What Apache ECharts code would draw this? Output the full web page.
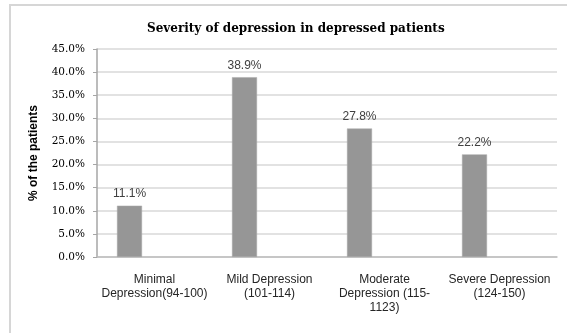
<!DOCTYPE html>
<html>
<head>
<meta charset="utf-8">
<script src="https://cdn.jsdelivr.net/npm/echarts@6/dist/echarts.min.js"></script>
<style>
  html, body { margin: 0; padding: 0; background: #fff; }
  #chart { width: 567px; height: 333px; }
</style>
</head>
<body>
<div id="chart"></div>
<script>
// Severity groups and share of patients in each (%)
var categories = [
  'Minimal\nDepression(94-100)',
  'Mild Depression\n(101-114)',
  'Moderate\nDepression (115-\n1123)',
  'Severe Depression\n(124-150)'
];
var patientShare = [11.1, 38.9, 27.8, 22.2];
// Two empty companion series keep the bars left of each category centre
var emptySeriesA = [null, null, null, null];
var emptySeriesB = [null, null, null, null];
var yTicks = { min: 0, max: 45, step: 5 };

var chart = echarts.init(document.getElementById('chart'), null, { renderer: 'canvas' });

chart.setOption({
  animation: false,
  backgroundColor: '#ffffff',
  graphic: [{
    type: 'rect',
    shape: { x: 10, y: 5, width: 620, height: 400 },
    style: { fill: 'none', stroke: '#d6d6d6', lineWidth: 2 },
    silent: true,
    z: -1
  }],
  title: {
    text: 'Severity of depression in depressed patients',
    left: 142,
    top: 18,
    textStyle: {
      fontFamily: 'DejaVu Serif',
      fontWeight: 'bold',
      fontSize: 12,
      color: '#000000'
    }
  },
  grid: { left: 97, right: 10, top: 49, bottom: 76 },
  xAxis: {
    type: 'category',
    data: categories,
    axisLine: { lineStyle: { color: '#bdbdbd', width: 1.5 } },
    axisTick: { show: false },
    axisLabel: {
      interval: 0,
      margin: 16,
      fontFamily: 'Liberation Sans',
      fontSize: 12,
      lineHeight: 14,
      color: '#262626'
    }
  },
  yAxis: {
    type: 'value',
    min: yTicks.min,
    max: yTicks.max,
    interval: yTicks.step,
    name: '% of the patients',
    nameLocation: 'middle',
    nameGap: 57,
    nameRotate: 90,
    nameTextStyle: {
      fontFamily: 'Liberation Sans',
      fontWeight: 'bold',
      fontSize: 12,
      color: '#000000'
    },
    axisLine: { show: true, lineStyle: { color: '#a6a6a6', width: 1.5 } },
    axisTick: { show: true, length: 4, lineStyle: { color: '#a6a6a6' } },
    axisLabel: {
      margin: 12,
      fontFamily: 'DejaVu Serif',
      fontSize: 10.5,
      color: '#000000',
      formatter: function (v) { return v.toFixed(1) + '%'; }
    },
    splitLine: { lineStyle: { color: '#d9d9d9', width: 1.5 } }
  },
  series: [
    {
      type: 'bar',
      data: patientShare,
      barWidth: 25,
      barGap: '0%',
      itemStyle: { color: '#969696', borderColor: '#a8a8a8', borderWidth: 0.5 },
      label: {
        show: true,
        position: 'top',
        distance: 6,
        fontFamily: 'Liberation Sans',
        fontSize: 12,
        color: '#404040',
        formatter: function (p) { return p.value.toFixed(1) + '%'; }
      }
    },
    { type: 'bar', data: emptySeriesA, barWidth: 25, barGap: '0%' },
    { type: 'bar', data: emptySeriesB, barWidth: 25, barGap: '0%' }
  ]
});
</script>
</body>
</html>
